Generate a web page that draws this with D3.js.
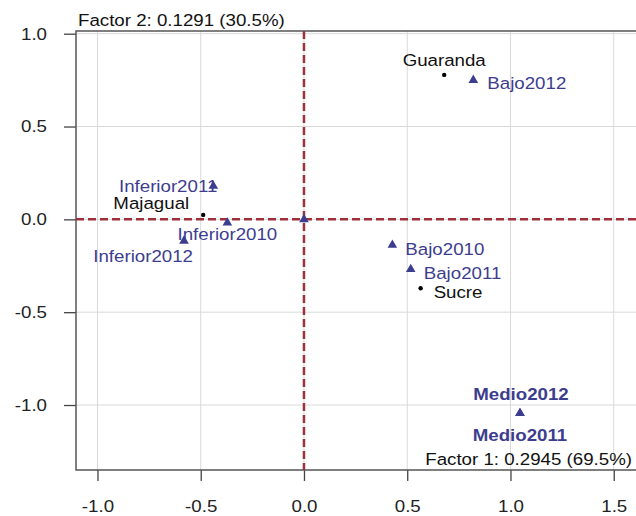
<!DOCTYPE html>
<html>
<head>
<meta charset="utf-8">
<script src="https://cdn.jsdelivr.net/npm/d3@7"></script>
<style>
  html, body { margin: 0; padding: 0; background: #fff; }
  svg { display: block; }
  text { font-family: "Liberation Sans", Arial, sans-serif; }
</style>
</head>
<body>
<svg id="chart" width="636" height="516"></svg>
<script>
// Correspondence analysis map: levels by year (triangles) and localities (dots)
const levelNames = ["Bajo2010", "Bajo2011", "Bajo2012", "Inferior2010", "Inferior2011", "Inferior2012", "Medio2011", "Medio2012", ""];
const levelF1 = [0.428, 0.517, 0.820, -0.371, -0.439, -0.581, 1.046, 1.046, 0.000];
const levelF2 = [-0.138, -0.269, 0.750, -0.018, 0.180, -0.116, -1.044, -1.044, 0.000];

const siteNames = ["Guaranda", "Majagual", "Sucre"];
const siteF1 = [0.679, -0.488, 0.565];
const siteF2 = [0.778, 0.024, -0.371];

const xTicks = [-1.0, -0.5, 0.0, 0.5, 1.0, 1.5];
const yTicks = [-1.0, -0.5, 0.0, 0.5, 1.0];

const axisTitleY = "Factor 2: 0.1291 (30.5%)";
const axisTitleX = "Factor 1: 0.2945 (69.5%)";

// label placement (pixel offsets from each mark)
const labelPlace = {
  "Bajo2010":     { dx: 13, dy: 10, anchor: "start" },
  "Bajo2011":     { dx: 13, dy: 10, anchor: "start" },
  "Bajo2012":     { dx: 14, dy: 9,  anchor: "start" },
  "Inferior2010": { dx: 0,  dy: 17, anchor: "middle" },
  "Inferior2011": { dx: 4,  dy: 6,  anchor: "end" },
  "Inferior2012": { dx: 9,  dy: 21, anchor: "end" },
  "Medio2011":    { dx: 0,  dy: 28, anchor: "middle", bold: true },
  "Medio2012":    { dx: 1,  dy: -13, anchor: "middle", bold: true },
  "Guaranda":     { dx: 0,  dy: -9, anchor: "middle" },
  "Majagual":     { dx: -14, dy: -6, anchor: "end" },
  "Sucre":        { dx: 13, dy: 10, anchor: "start" }
};

const levelColor = "#3d3d8f";
const refColor = "#9e2f3c";
const fontSize = 17;
const stretch = 1.1;
const fmt = d => d.toFixed(1);

const svg = d3.select("#chart");
const plotLeft = 76, plotTop = 31, plotBottom = 470, plotRight = 646;

const x = d3.scaleLinear().domain([-1.104, -1.104 + (plotRight - plotLeft) / 206.5]).range([plotLeft, plotRight]);
const y = d3.scaleLinear().domain([-1.35, 1.0145]).range([plotBottom, plotTop]);

// grid
const grid = svg.append("g");
grid.selectAll("line.gx").data(xTicks).join("line")
  .attr("x1", d => x(d)).attr("x2", d => x(d))
  .attr("y1", plotTop).attr("y2", plotBottom)
  .attr("stroke", "#d9d9d9").attr("stroke-width", 1);
grid.selectAll("line.gy").data(yTicks).join("line")
  .attr("x1", plotLeft).attr("x2", plotRight)
  .attr("y1", d => y(d)).attr("y2", d => y(d))
  .attr("stroke", "#d9d9d9").attr("stroke-width", 1);

// axes
const xAxis = svg.append("g").attr("transform", `translate(0,${plotBottom})`)
  .call(d3.axisBottom(x).tickValues(xTicks).tickFormat(fmt).tickSize(11).tickPadding(19));
const yAxis = svg.append("g").attr("transform", `translate(${plotLeft},0)`)
  .call(d3.axisLeft(y).tickValues(yTicks).tickFormat(fmt).tickSize(12).tickPadding(17));
[xAxis, yAxis].forEach(a => {
  a.select(".domain").remove();
  a.selectAll(".tick line").attr("stroke", "#444").attr("stroke-width", 1.3);
  a.selectAll(".tick text").style("font-size", fontSize + "px").attr("fill", "#222");
});
xAxis.selectAll(".tick text").attr("transform", `scale(${stretch},1)`);
yAxis.selectAll(".tick text")
  .attr("x", 0)
  .attr("transform", `translate(-29,0) scale(${stretch},1)`);

// frame (top, left, bottom)
svg.append("path")
  .attr("d", `M${plotRight + 20},${plotTop}H${plotLeft}V${plotBottom}H${plotRight + 20}`)
  .attr("fill", "none").attr("stroke", "#555").attr("stroke-width", 1.5);

// reference lines through the origin
svg.append("line")
  .attr("x1", x(0)).attr("x2", x(0)).attr("y1", plotTop).attr("y2", plotBottom)
  .attr("stroke", refColor).attr("stroke-width", 2.5).attr("stroke-dasharray", "8,4");
svg.append("line")
  .attr("x1", plotLeft).attr("x2", plotRight + 20).attr("y1", y(0)).attr("y2", y(0))
  .attr("stroke", refColor).attr("stroke-width", 2.5).attr("stroke-dasharray", "8,4");

function stretchedText(sel, px, py, str, opts) {
  sel.append("g")
    .attr("transform", `translate(${px},${py}) scale(${stretch},1)`)
    .append("text")
    .attr("text-anchor", opts.anchor)
    .style("font-size", fontSize + "px")
    .style("font-weight", opts.bold ? "bold" : "normal")
    .attr("fill", opts.color)
    .text(str);
}

// axis titles
stretchedText(svg, 78, 26, axisTitleY, { anchor: "start", color: "#111" });
stretchedText(svg, 632, 465, axisTitleX, { anchor: "end", color: "#111" });

// level markers
const levels = levelNames.map((n, i) => ({ name: n, f1: levelF1[i], f2: levelF2[i] }));
const sites = siteNames.map((n, i) => ({ name: n, f1: siteF1[i], f2: siteF2[i] }));

svg.append("g").selectAll("path").data(levels).join("path")
  .attr("d", d3.symbol(d3.symbolTriangle, 40))
  .attr("transform", d => `translate(${x(d.f1)},${y(d.f2)})`)
  .attr("fill", levelColor);

svg.append("g").selectAll("circle").data(sites).join("circle")
  .attr("cx", d => x(d.f1)).attr("cy", d => y(d.f2)).attr("r", 2.2)
  .attr("fill", "#000");

// labels
const labels = svg.append("g");
levels.filter(d => d.name).forEach(d => {
  const p = labelPlace[d.name];
  stretchedText(labels, x(d.f1) + p.dx, y(d.f2) + p.dy, d.name, { anchor: p.anchor, color: levelColor, bold: p.bold });
});
sites.forEach(d => {
  const p = labelPlace[d.name];
  stretchedText(labels, x(d.f1) + p.dx, y(d.f2) + p.dy, d.name, { anchor: p.anchor, color: "#111" });
});
</script>
</body>
</html>
